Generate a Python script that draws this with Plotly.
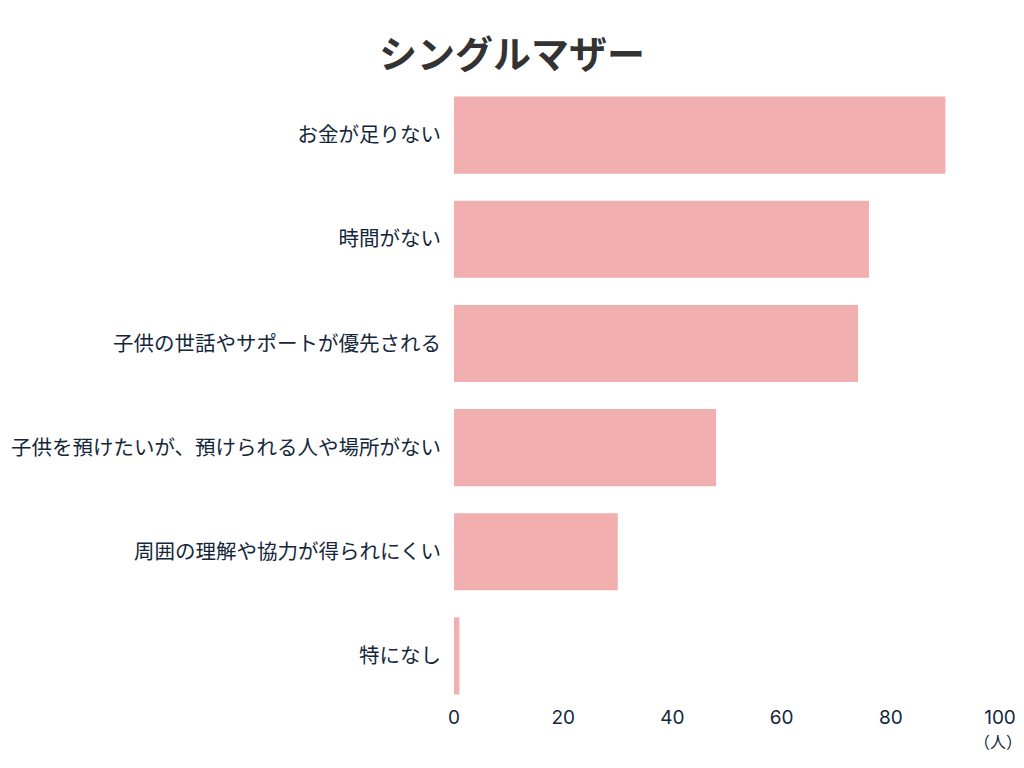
import plotly.graph_objects as go

categories = ["お金が足りない", "時間がない", "子供の世話やサポートが優先される",
              "子供を預けたいが、預けられる人や場所がない", "周囲の理解や協力が得られにくい", "特になし"]
values = [90, 76, 74, 48, 30, 1]
x_ticks = [0, 20, 40, 60, 80, 100]
title_text = "シングルマザー"
unit_text = "（人）"

fig = go.Figure(go.Bar(
    x=values, y=categories, orientation="h",
    marker=dict(color="#F2AFAF", line=dict(width=0)),
    hoverinfo="x+y",
))

fig.update_layout(
    width=1024, height=768,
    margin=dict(l=454, r=24, t=83, b=60),
    paper_bgcolor="white", plot_bgcolor="white",
    bargap=0.26,
    showlegend=False,
    title=dict(text=title_text, x=0.5, xref="container", xanchor="center",
               y=1 - 55 / 768, yref="container", yanchor="middle",
               font=dict(family="Noto Sans CJK JP", size=38, color="#333333", weight="bold")),
    font=dict(family="Noto Sans CJK JP", color="#14273a"),
)
fig.update_xaxes(range=[0, 100], tickvals=x_ticks, showgrid=False, zeroline=False,
                 showline=False, ticks="", ticklabelstandoff=-4, automargin=False,
                 tickfont=dict(family="Inter", size=19, color="#14273a"))
fig.update_yaxes(autorange="reversed", showgrid=False, showline=False, ticks="",
                 ticklabelstandoff=12, automargin=False,
                 tickfont=dict(family="Noto Sans CJK JP", size=20.5, color="#14273a"))
fig.add_annotation(text=unit_text, xref="paper", yref="paper", x=1, y=0, xanchor="center",
                   yanchor="top", yshift=-20, xshift=-2, showarrow=False, borderpad=0,
                   font=dict(family="Noto Sans CJK JP", size=16, color="#14273a"))

fig.write_html("out.html")
